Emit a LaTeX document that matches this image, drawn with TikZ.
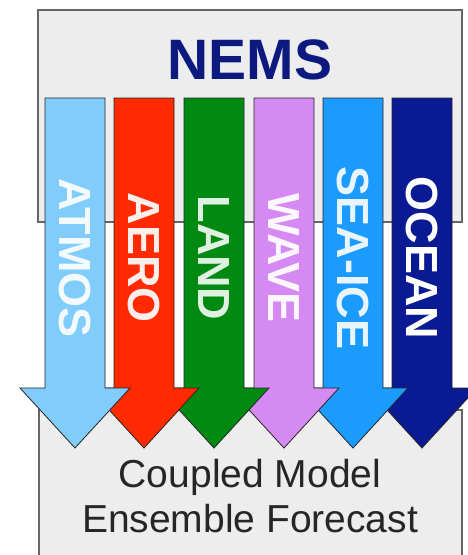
\documentclass[tikz,border=0pt]{standalone}
\usepackage{fontspec}
\setmainfont{Liberation Sans}

\definecolor{nemsazul}{HTML}{0C1A80}
\definecolor{cajagris}{HTML}{EDEDED}
\definecolor{atmos}{HTML}{80CCFA}
\definecolor{aero}{HTML}{FF2A00}
\definecolor{land}{HTML}{008A12}
\definecolor{wave}{HTML}{D48AF2}
\definecolor{seaice}{HTML}{1C9BFF}
\definecolor{ocean}{HTML}{0A1A92}

\providecommand{\flecha}[5]{
    \draw[flecha, fill=#3] (#2,98) -- ++(60,0) -- ++(0,290) -- ++(25,0)
        -- (#2+30,448) -- (#2-25,388) -- (#2,388) -- cycle;
    \node[etiqueta, text=#4] (#1) at (#2+30,258) {#5};
}

\begin{document}
\begin{tikzpicture}[
    x=1pt, y=-1pt,
    caja/.style={draw=black!60, line width=1.3pt, fill=cajagris},
    flecha/.style={draw=black!85, line width=0.8pt, line join=miter},
    etiqueta/.style={rotate=-90, inner sep=0pt, font=\fontsize{45}{45}\selectfont\bfseries},
    titulo/.style={inner sep=0pt, text=nemsazul, font=\fontsize{57}{57}\selectfont\bfseries},
    pie/.style={inner sep=0pt, anchor=base, text=black!85, font=\fontsize{39}{39}\selectfont}
]
    \clip (0,0) rectangle (468,555);
    \fill[white] (0,0) rectangle (468,555);

    % CAJAS
    \draw[caja] (38,10) rectangle (462,222);
    \draw[caja] (39,410) rectangle (462,570);
    \node[titulo] (nems) at (250,60) {NEMS};

    % FLECHAS (de derecha a izquierda)
    \flecha{ocean}{392}{ocean}{white}{OCEAN}
    \flecha{seaice}{323}{seaice}{white!90!seaice}{SEA-ICE}
    \flecha{wave}{254}{wave}{white!92!wave}{WAVE}
    \flecha{land}{184}{land}{white!88!land}{LAND}
    \flecha{aero}{114}{aero}{white!92!aero}{AERO}
    \flecha{atmos}{45}{atmos}{white!90!atmos}{ATMOS}

    % TEXTO INFERIOR
    \node[pie] (acoplado) at (250,487) {Coupled Model};
    \node[pie] (conjunto) at (250,532) {Ensemble Forecast};
\end{tikzpicture}
\end{document}
